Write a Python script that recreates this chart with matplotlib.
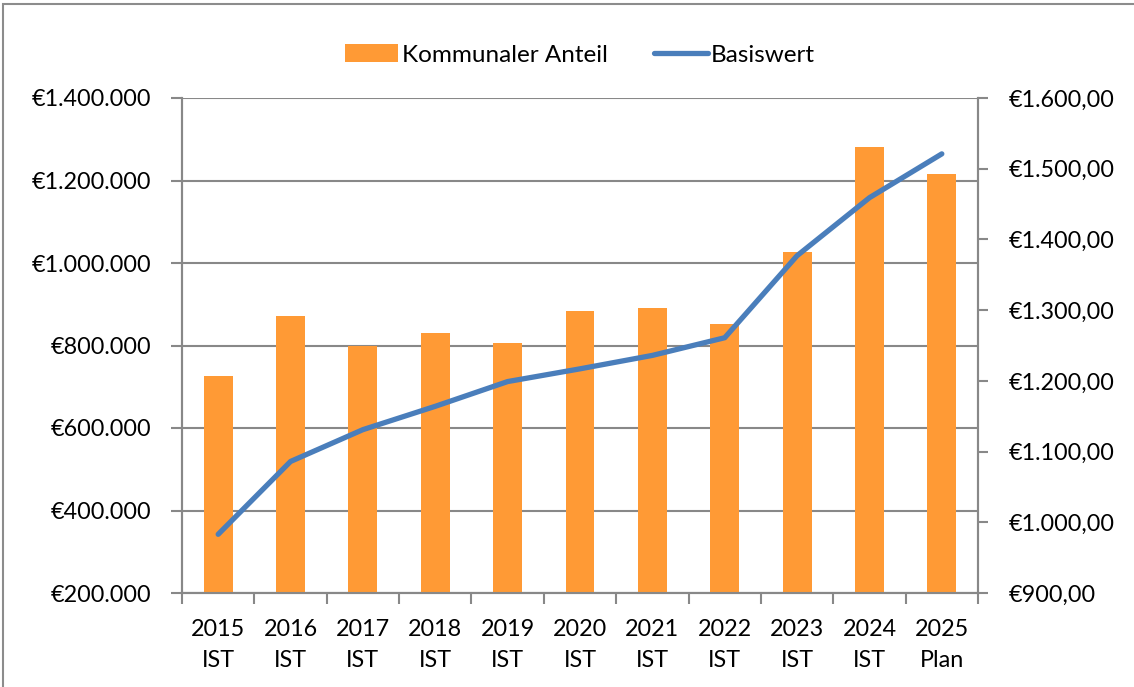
import matplotlib
matplotlib.use("Agg")
import matplotlib.pyplot as plt
from matplotlib.ticker import FuncFormatter
from matplotlib.patches import Rectangle

years = ["2015", "2016", "2017", "2018", "2019", "2020", "2021", "2022", "2023", "2024", "2025"]
kinds = ["IST", "IST", "IST", "IST", "IST", "IST", "IST", "IST", "IST", "IST", "Plan"]
kommunaler_anteil = [726000, 871000, 800000, 830000, 806000, 884000, 891000, 851000, 1027000, 1282000, 1216000]
basiswert = [983, 1086, 1131, 1164, 1199, 1217, 1236, 1261, 1377, 1459, 1521]

left_ticks = [200000, 400000, 600000, 800000, 1000000, 1200000, 1400000]
right_ticks = [900, 1000, 1100, 1200, 1300, 1400, 1500, 1600]

BAR = "#FF9A35"
LINE = "#4A7EBB"
GRID = "#888888"
FS = 16.8

plt.rcParams['font.family'] = ['Lato', 'DejaVu Sans']

fig = plt.figure(figsize=(11.34, 6.87), dpi=100)
fig.patches.append(Rectangle((3 / 1134, -0.05), 1.2, 1 - 4 / 687 + 0.05, transform=fig.transFigure,
                             fill=False, edgecolor="#8C8C8C", linewidth=1.5, zorder=0))

ax = fig.add_axes([182 / 1134, 1 - 593 / 687, (978 - 182) / 1134, (593 - 98) / 687])
ax2 = ax.twinx()

n = len(years)
xs = list(range(n))
ax.bar(xs, kommunaler_anteil, width=0.4, color=BAR, zorder=3, label="Kommunaler Anteil")
ax2.plot(xs, basiswert, color=LINE, linewidth=3.8, solid_capstyle="round", solid_joinstyle="round",
         label="Basiswert", zorder=4)

ax.set_xlim(-0.5, n - 0.5)
ax.set_ylim(200000, 1400000)
ax2.set_ylim(900, 1600)
ax.set_yticks(left_ticks)
ax2.set_yticks(right_ticks)

def fmt_left(v, pos):
    return "€" + f"{v:,.0f}".replace(",", ".")

def fmt_right(v, pos):
    s = f"{v:,.2f}"
    s = s.replace(",", "X").replace(".", ",").replace("X", ".")
    return "€" + s

ax.yaxis.set_major_formatter(FuncFormatter(fmt_left))
ax2.yaxis.set_major_formatter(FuncFormatter(fmt_right))

ax.set_xticks(xs)
ax.set_xticklabels([f"{y}\n{k}" for y, k in zip(years, kinds)], fontsize=FS, linespacing=1.55)
ax.set_xticks([i - 0.5 for i in range(n + 1)], minor=True)
ax.tick_params(axis="x", which="major", length=0, pad=19)
ax.tick_params(axis="x", which="minor", length=8, width=1.5, color=GRID)
ax.tick_params(axis="y", length=8, width=1.5, color=GRID, labelsize=FS, pad=14)
ax2.tick_params(axis="y", length=7, width=1.5, color=GRID, labelsize=FS, pad=15)

ax.grid(axis="y", color=GRID, linewidth=1.5, zorder=0)
ax.set_axisbelow(True)

for a in (ax, ax2):
    a.spines["top"].set_visible(False)
    for s in ("left", "right", "bottom"):
        a.spines[s].set_color(GRID)
        a.spines[s].set_linewidth(1.5)

h1, l1 = ax.get_legend_handles_labels()
h2, l2 = ax2.get_legend_handles_labels()
fig.legend(h1 + h2, l1 + l2, loc="center", bbox_to_anchor=(580 / 1134, 1 - 55 / 687), ncol=2,
           frameon=False, fontsize=17.5, handlelength=2.2, handletextpad=0.15, columnspacing=1.9,
           handleheight=0.7)

fig.savefig("out.png", dpi=100)
